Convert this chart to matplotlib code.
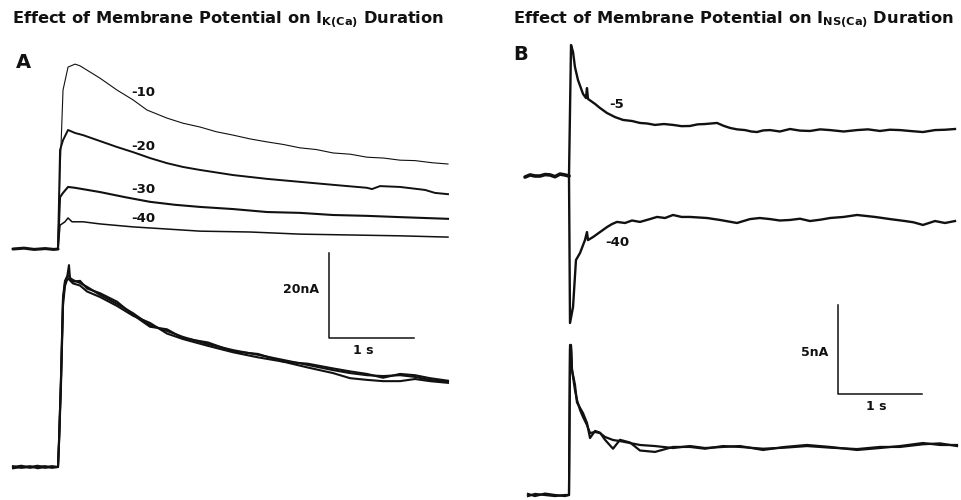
"""
Effect of membrane potential on I_K(Ca) and I_NS(Ca) duration.
Two panels of current traces re-drawn from a scanned figure.
"""

import matplotlib
matplotlib.use("Agg")
import matplotlib.pyplot as plt

# ---- Panel A: I_K(Ca) traces (time in s from step onset, current in nA) ----
a_base_t = [-0.53, -0.40, -0.28, -0.15, -0.05, 0.0]
a_base_i = [0.0, 0.2, -0.1, 0.1, -0.1, 0.0]

a_m10_t = [0, 0.024, 0.059, 0.118, 0.2, 0.259, 0.494, 0.694, 0.882, 1.047, 1.282,
           1.47, 1.671, 1.86, 2.059, 2.26, 2.459, 2.65, 2.847, 3.04, 3.235,
           3.44, 3.635, 3.83, 4.024, 4.2, 4.40, 4.588]
a_m10_i = [0, 17.9, 37.4, 42.8, 43.5, 43.1, 40.2, 37.4, 35.1, 32.7, 30.8,
           29.6, 28.7, 27.6, 26.8, 25.9, 25.2, 24.6, 23.8, 23.4, 22.6,
           22.3, 21.6, 21.4, 20.9, 20.8, 20.3, 20.0]

a_m20_t = [0, 0.024, 0.059, 0.118, 0.2, 0.294, 0.494, 0.694, 0.882, 1.082, 1.282,
           1.471, 1.671, 2.059, 2.459, 2.847, 3.235, 3.635, 3.694, 3.788, 4.024,
           4.318, 4.435, 4.588]
a_m20_i = [0, 23.3, 25.6, 28.0, 27.3, 26.8, 25.4, 24.0, 22.8, 21.4, 20.2,
           19.3, 18.6, 17.4, 16.5, 15.8, 15.1, 14.4, 14.1, 14.8, 14.6,
           13.9, 13.2, 12.9]

a_m30_t = [0, 0.024, 0.059, 0.118, 0.2, 0.494, 0.788, 1.082, 1.376, 1.671, 2.059,
           2.459, 2.847, 3.235, 3.635, 4.024, 4.588]
a_m30_i = [0, 12.2, 13.2, 14.6, 14.4, 13.4, 12.2, 11.1, 10.4, 9.9, 9.4,
           8.7, 8.5, 8.0, 7.8, 7.5, 7.1]

a_m40_t = [0, 0.024, 0.082, 0.118, 0.165, 0.294, 0.494, 0.882, 1.282, 1.671, 2.259,
           2.847, 3.435, 4.024, 4.588]
a_m40_i = [0, 5.6, 6.4, 7.3, 6.4, 6.4, 5.9, 5.2, 4.7, 4.2, 4.0,
           3.5, 3.3, 3.1, 2.8]

a_labels = ["-10", "-20", "-30", "-40"]
a_label_i = [36.9, 24.0, 13.9, 7.1]

# superimposed (scaled) traces, current relative to their own baseline
a_sup_t = [-0.529, -0.43, -0.329, -0.24, -0.153, -0.07, 0, 0.012, 0.035, 0.059,
           0.082, 0.106, 0.129, 0.141, 0.176, 0.259, 0.341, 0.494, 0.694, 0.882,
           1.082, 1.282, 1.471, 1.765, 2.059, 2.353, 2.647, 2.941, 3.235, 3.435,
           3.635, 3.824, 4.024, 4.2, 4.376, 4.588]
a_sup1_i = [0, 0.3, -0.2, 0.1, 0.2, -0.2, 0, 6.4, 20.5, 39.3,
            43.3, 44.5, 47.5, 44.5, 44.0, 43.3, 42.4, 40.5, 38.4, 36.2,
            33.4, 32.0, 30.6, 28.9, 27.5, 26.4, 25.2, 24.0, 22.8, 22.1,
            21.6, 21.4, 21.6, 21.2, 20.5, 20.0]
a_sup2_i = [-0.3, 0.0, 0.2, -0.3, 0.0, 0.2, 0, 5.5, 19.0, 38.0,
            42.6, 44.0, 44.3, 43.9, 43.2, 42.7, 41.3, 40.0, 37.9, 35.6,
            33.9, 31.4, 30.1, 28.5, 27.0, 25.8, 24.8, 23.4, 22.1, 20.9,
            20.5, 20.2, 20.2, 20.7, 20.2, 19.8]
a_sup3_i = [0.2, -0.2, 0.0, 0.3, -0.2, 0.0, 0, 6.0, 21.0, 40.0,
            43.8, 44.8, 45.0, 44.2, 43.6, 43.8, 42.0, 40.9, 38.9, 35.8,
            33.0, 32.4, 30.3, 29.3, 27.2, 26.6, 24.8, 24.3, 23.2, 22.5,
            21.9, 21.0, 21.9, 21.6, 20.9, 20.3]

# ---- Panel B: I_NS(Ca) traces ----
b_base_t = [-0.524, -0.464, -0.405, -0.345, -0.286, -0.226, -0.167, -0.107, -0.05, 0.0]
b_base_i = [-0.06, 0.06, 0.0, 0.0, 0.08, 0.06, -0.04, 0.11, 0.06, 0.0]

b_m5_t = [0, 0.024, 0.048, 0.071, 0.107, 0.167, 0.202, 0.214, 0.226, 0.31, 0.369,
          0.452, 0.548, 0.643, 0.75, 0.845, 0.93, 1.024, 1.13, 1.238, 1.34, 1.44,
          1.53, 1.619, 1.762, 1.84, 1.917, 2.0, 2.095, 2.17, 2.238, 2.31, 2.393,
          2.51, 2.631, 2.75, 2.869, 2.99, 3.107, 3.27, 3.429, 3.56, 3.702, 3.82,
          3.94, 4.08, 4.214, 4.357, 4.48, 4.595]
b_m5_i = [0, 7.36, 6.97, 6.12, 5.39, 4.61, 4.38, 4.94, 4.33, 4.05, 3.82,
          3.54, 3.31, 3.15, 3.09, 2.98, 2.95, 2.87, 2.92, 2.87, 2.80, 2.81,
          2.90, 2.92, 2.98, 2.82, 2.70, 2.62, 2.58, 2.50, 2.47, 2.56, 2.58,
          2.50, 2.64, 2.55, 2.53, 2.62, 2.58, 2.50, 2.58, 2.62, 2.53, 2.60,
          2.58, 2.52, 2.47, 2.58, 2.60, 2.64]

b_m40_t = [0, 0.012, 0.048, 0.083, 0.131, 0.19, 0.214, 0.226, 0.286, 0.369, 0.452,
           0.512, 0.571, 0.667, 0.75, 0.845, 0.964, 1.048, 1.143, 1.238, 1.34, 1.44,
           1.643, 1.798, 2.0, 2.155, 2.27, 2.393, 2.51, 2.631, 2.75, 2.869, 3.0,
           3.107, 3.27, 3.429, 3.643, 3.821, 4.0, 4.1, 4.214, 4.357, 4.476, 4.595]
b_m40_i = [0, -8.26, -7.36, -4.72, -4.33, -3.6, -3.15, -3.6, -3.43, -3.15, -2.87,
           -2.7, -2.58, -2.64, -2.50, -2.58, -2.42, -2.30, -2.36, -2.19, -2.30, -2.30,
           -2.36, -2.47, -2.64, -2.42, -2.36, -2.42, -2.50, -2.47, -2.40, -2.53, -2.45,
           -2.36, -2.30, -2.19, -2.30, -2.42, -2.53, -2.60, -2.75, -2.53, -2.64, -2.53]

b_labels = ["-5", "-40"]
b_label_i = [3.99, -3.76]

b_sup_t = [-0.488, -0.405, -0.286, -0.167, -0.048, 0, 0.012, 0.024, 0.036, 0.071,
           0.095, 0.131, 0.167, 0.214, 0.25, 0.31, 0.369, 0.429, 0.524, 0.607,
           0.726, 0.845, 1.024, 1.238, 1.44, 1.619, 1.833, 2.036, 2.31, 2.571,
           2.833, 3.107, 3.429, 3.702, 3.94, 4.214, 4.417, 4.619]
b_sup1_i = [-0.06, 0.06, 0.0, -0.06, 0.0, 0, 8.43, 8.43, 7.02, 5.90,
            5.34, 4.78, 4.38, 3.93, 3.48, 3.54, 3.48, 3.26, 3.09, 3.03,
            2.92, 2.81, 2.75, 2.64, 2.75, 2.64, 2.70, 2.75, 2.53, 2.70,
            2.81, 2.70, 2.53, 2.64, 2.75, 2.92, 2.81, 2.81]
b_sup2_i = [0.06, -0.06, 0.08, 0.0, -0.06, 0, 8.2, 8.3, 7.02, 6.20,
            5.20, 4.90, 4.60, 4.05, 3.20, 3.60, 3.50, 3.10, 2.60, 3.10,
            2.95, 2.50, 2.42, 2.70, 2.70, 2.60, 2.75, 2.70, 2.60, 2.66,
            2.75, 2.66, 2.58, 2.70, 2.70, 2.85, 2.90, 2.75]

scale_time = 1.0      # s
scale_a_current = 20  # nA
scale_b_current = 5   # nA

# ---- layout (pixel geometry of the original 961x500 figure) ----
W, H = 961, 500
A_X0, A_Y0, A_PXS, A_PXNA = 58, 249, 85, 4.25   # step x, baseline y, px/s, px/nA
B_X0, B_Y0, B_PXS, B_PXNA = 569, 176, 84, 17.8
A_SUP_OFFSET = (A_Y0 - 467) / A_PXNA
B_SUP_OFFSET = (B_Y0 - 495) / B_PXNA

plt.rcParams["font.family"] = ["DejaVu Sans"]
plt.rcParams["mathtext.fontset"] = "custom"
plt.rcParams["mathtext.bf"] = "DejaVu Sans:bold"
plt.rcParams["mathtext.rm"] = "DejaVu Sans"

fig = plt.figure(figsize=(W / 100, H / 100), dpi=100)
fig.patch.set_facecolor("white")

axA = fig.add_axes([0, 0, 1, 1])
axA.set_xlim(-A_X0 / A_PXS, (W - A_X0) / A_PXS)
axA.set_ylim((A_Y0 - H) / A_PXNA, A_Y0 / A_PXNA)
axA.axis("off")

axB = fig.add_axes([0, 0, 1, 1])
axB.set_xlim(-B_X0 / B_PXS, (W - B_X0) / B_PXS)
axB.set_ylim((B_Y0 - H) / B_PXNA, B_Y0 / B_PXNA)
axB.axis("off")
axB.patch.set_alpha(0)

ink = "#111111"

# Panel A top traces
axA.plot(a_base_t, a_base_i, color=ink, lw=2.2, solid_capstyle="round")
axA.plot(a_m10_t, a_m10_i, color=ink, lw=0.8)
axA.plot(a_m20_t, a_m20_i, color=ink, lw=1.4)
axA.plot(a_m30_t, a_m30_i, color=ink, lw=1.5)
axA.plot(a_m40_t, a_m40_i, color=ink, lw=1.1)
for lab, yi in zip(a_labels, a_label_i):
    axA.text((143 - A_X0) / A_PXS, yi, lab, ha="center", va="center",
             fontsize=9.5, fontweight="bold", color=ink)

# Panel A superimposed traces
for ys in (a_sup1_i, a_sup2_i, a_sup3_i):
    axA.plot(a_sup_t, [v + A_SUP_OFFSET for v in ys], color=ink, lw=1.5)

# Panel A scale bar
sx = (329 - A_X0) / A_PXS
sy = (A_Y0 - 338) / A_PXNA
axA.plot([sx, sx, sx + scale_time], [sy + scale_a_current, sy, sy],
         color=ink, lw=1.1)
axA.text(sx - 0.12, sy + scale_a_current * 0.57, f"{scale_a_current}nA",
         ha="right", va="center", fontsize=9, fontweight="bold", color=ink)
axA.text(sx + scale_time * 0.4, sy - 3.0, "1 s", ha="center", va="center",
         fontsize=9, fontweight="bold", color=ink)

# Panel B top traces
axB.plot(b_base_t, b_base_i, color=ink, lw=2.6, solid_capstyle="round")
axB.plot(b_m5_t, b_m5_i, color=ink, lw=1.7)
axB.plot(b_m40_t, b_m40_i, color=ink, lw=1.7)
for lab, yi in zip(b_labels, b_label_i):
    axB.text((617 - B_X0) / B_PXS, yi, lab, ha="center", va="center",
             fontsize=9.5, fontweight="bold", color=ink)

# Panel B superimposed traces
for ys in (b_sup1_i, b_sup2_i):
    axB.plot(b_sup_t, [v + B_SUP_OFFSET for v in ys], color=ink, lw=1.6)

# Panel B scale bar
sx = (838 - B_X0) / B_PXS
sy = (B_Y0 - 394) / B_PXNA
axB.plot([sx, sx, sx + scale_time], [sy + scale_b_current, sy, sy],
         color=ink, lw=1.1)
axB.text(sx - 0.12, sy + scale_b_current * 0.47, f"{scale_b_current}nA",
         ha="right", va="center", fontsize=9, fontweight="bold", color=ink)
axB.text(sx + scale_time * 0.45, sy - 0.7, "1 s", ha="center", va="center",
         fontsize=9, fontweight="bold", color=ink)

# Titles and panel letters
fig.text(12 / W, 1 - 24 / H,
         r"Effect of Membrane Potential on I$_{\mathbf{K(Ca)}}$ Duration",
         ha="left", va="baseline", fontsize=11.7, fontweight="bold", color=ink)
fig.text(513 / W, 1 - 24 / H,
         r"Effect of Membrane Potential on I$_{\mathbf{NS(Ca)}}$ Duration",
         ha="left", va="baseline", fontsize=11.7, fontweight="bold", color=ink)
fig.text(23 / W, 1 - 62 / H, "A", ha="center", va="center",
         fontsize=14, fontweight="bold", color=ink)
fig.text(521 / W, 1 - 55 / H, "B", ha="center", va="center",
         fontsize=14, fontweight="bold", color=ink)

fig.savefig("out.png", dpi=100, facecolor="white")
